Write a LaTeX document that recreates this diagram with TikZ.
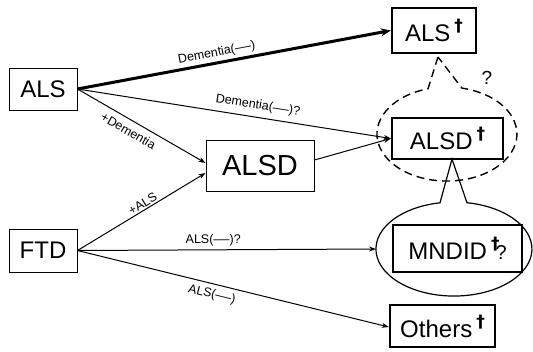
\documentclass[tikz,border=0pt]{standalone}
\usepackage{fontspec}
\setmainfont{Liberation Sans}
\newfontfamily\dgfont{DejaVu Sans}
\usetikzlibrary{arrows.meta}
\newcommand\dgr[1][17]{\raisebox{0.42em}{\fontsize{#1}{#1}\selectfont\dgfont\bfseries †}}
\newcommand\ldash{\scalebox{1.3}[1]{—}}
\begin{document}
\begin{tikzpicture}[x=1pt,y=1pt,
  box/.style={draw, inner sep=0pt, line width=1pt, font=\fontsize{24}{24}\selectfont},
  tbox/.style={box, line width=2.4pt},
  lbl/.style={font=\fontsize{12.5}{14}\selectfont, inner sep=0.5pt, sloped},
  arr/.style={line width=1pt, -{Stealth[length=7pt,width=5pt]}},
  bigarr/.style={line width=3pt, -{Stealth[length=10pt,width=8pt]}},
  dcallout/.style={line width=1.4pt, dash pattern=on 8pt off 5pt},
  scallout/.style={line width=1.2pt}]
\useasboundingbox (0,0) rectangle (533,-351);
% left / middle boxes
\node[box, minimum width=68pt, minimum height=42pt] (als) at (43,-89) {ALS};
\node[box, minimum width=68pt, minimum height=43pt] (ftd) at (43,-250.5) {FTD};
\node[box, minimum width=108pt, minimum height=51pt, font=\fontsize{29}{29}\selectfont] (alsd) at (260,-165.5) {ALSD};
% right boxes
\node[tbox, minimum width=84pt, minimum height=45pt] (alst) at (434,-30.5) {ALS\,\dgr};
\node[tbox, minimum width=111pt, minimum height=41pt] (alsdt) at (447.5,-138.5) {ALSD\,\dgr};
\node[tbox, minimum width=129pt, minimum height=47pt] (mnd) at (457.5,-248.5) {MNDID\,\dgr\kern-4pt{\fontsize{20}{20}\selectfont ?}\hspace{12pt}};
\node[tbox, minimum width=105pt, minimum height=42pt] (oth) at (442.5,-326) {Others\,\dgr};
% dashed callout around ALSD dagger pointing to ALS dagger
\coordinate (dapex) at (438,-57);
\draw[dcallout] (dapex) -- (428,-88.8) arc[start angle=105.7, end angle=437.6, x radius=70pt, y radius=47pt] -- cycle;
\node[font=\fontsize{19}{19}\selectfont, inner sep=0pt] (qm) at (487,-78) {?};
% solid callout around MNDID pointing to ALSD dagger
\coordinate (mapex) at (452,-159);
\draw[scallout] (mapex) -- (440,-202.8) arc[start angle=100.3, end angle=440.4, x radius=78pt, y radius=47pt] -- cycle;
\coordinate (mleft) at (376,-249);
% connectors
\draw[bigarr] (als.east) -- node[lbl, pos=0.45, above=2pt] (l1) {Dementia(\ldash)} (alst.west);
\draw[arr] (als.east) -- node[lbl, pos=0.57, above=5pt] (l2) {Dementia(\ldash)?} (alsdt.west);
\draw[arr] (als.east) -- node[lbl, pos=0.44, below=5pt] (l3) {+Dementia} ([yshift=2.5pt]alsd.west);
\draw[arr] (ftd.east) -- node[lbl, pos=0.535, above=1pt] (l4) {+ALS} ([yshift=-7.5pt]alsd.west);
\draw[arr] ([yshift=5.5pt]alsd.east) -- (alsdt.west);
\draw[arr] (ftd.east) -- node[lbl, pos=0.455, above=3pt] (l5) {ALS(\ldash)?} (mleft);
\draw[arr] (ftd.east) -- node[lbl, pos=0.44, below=4pt] (l6) {ALS(\ldash)} ([yshift=-1pt]oth.west);
\end{tikzpicture}
\end{document}
